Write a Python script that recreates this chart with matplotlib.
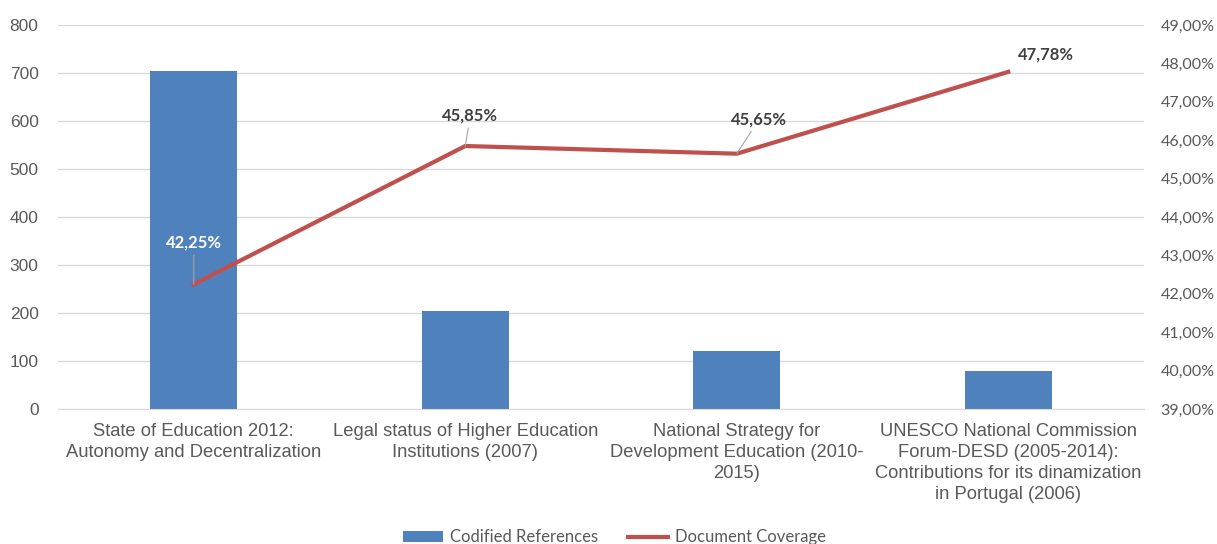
import numpy as np
import matplotlib.pyplot as plt
from matplotlib.ticker import FuncFormatter

categories = [
    "State of Education 2012:\nAutonomy and Decentralization",
    "Legal status of Higher Education\nInstitutions (2007)",
    "National Strategy for\nDevelopment Education (2010-\n2015)",
    "UNESCO National Commission\nForum-DESD (2005-2014):\nContributions for its dinamization\nin Portugal (2006)",
]
references = [704, 204, 121, 79]
coverage = [42.25, 45.85, 45.65, 47.78]
coverage_labels = ["42,25%", "45,85%", "45,65%", "47,78%"]

bar_color = "#4F81BD"
line_color = "#C0504D"
grid_color = "#D9D9D9"
text_color = "#595959"

fig = plt.figure(figsize=(12.17, 5.44), dpi=100)
ax = fig.add_axes([0.0477, 0.248, 0.8923, 0.706])
ax2 = ax.twinx()

x = np.arange(len(categories))
ax.bar(x, references, width=0.32, color=bar_color, zorder=2, label="Codified References")
ax.set_xlim(-0.5, len(categories) - 0.5)
ax.set_ylim(0, 800)
ax.set_yticks(range(0, 801, 100))
ax.grid(axis="y", color=grid_color, linewidth=1, zorder=0)
ax.set_axisbelow(True)
ax.set_xticks(x)
ax.set_xticklabels(categories, fontsize=13.2, color=text_color, family="Liberation Sans",
                   linespacing=1.3)
ax.tick_params(axis="x", length=0, pad=10)
ax.tick_params(axis="y", length=0, labelsize=12.5, labelcolor=text_color, pad=14)
for lab in ax.get_yticklabels():
    lab.set_family("Liberation Sans")
for s in ["top", "left", "right"]:
    ax.spines[s].set_visible(False)
ax.spines["bottom"].set_color(grid_color)

ax2.plot(x, coverage, color=line_color, linewidth=3, zorder=3, label="Document Coverage")
ax2.set_ylim(39, 49)
ax2.set_yticks(np.arange(39, 49.5, 1))
ax2.yaxis.set_major_formatter(FuncFormatter(lambda v, p: f"{v:.2f}%".replace(".", ",")))
ax2.tick_params(axis="y", length=0, labelsize=11.5, labelcolor=text_color, pad=12)
for lab in ax2.get_yticklabels():
    lab.set_family("Lato")
for s in ["top", "left", "right", "bottom"]:
    ax2.spines[s].set_visible(False)

# data labels with leader lines (offsets in points)
offsets = [(0, 24), (3.6, 16), (16, 19), (27, 7)]
label_colors = ["white", "#404040", "#404040", "#404040"]
leaders = [True, True, True, False]
for xi, yi, txt, off, c, lead in zip(x, coverage, coverage_labels, offsets, label_colors, leaders):
    arrow = dict(arrowstyle="-", color="#A6A6A6", lw=0.8, shrinkA=1, shrinkB=0) if lead else None
    ax2.annotate(txt, xy=(xi, yi), xytext=off, textcoords="offset points",
                 ha="center", va="bottom", fontsize=12, fontweight="bold",
                 color=c, family="Lato", arrowprops=arrow)

h1, l1 = ax.get_legend_handles_labels()
h2, l2 = ax2.get_legend_handles_labels()
fig.legend(h1 + h2, l1 + l2, loc="lower center", bbox_to_anchor=(0.505, -0.03), ncol=2,
           frameon=False, prop={"family": "Lato", "size": 12}, labelcolor=text_color,
           handlelength=2.4, handleheight=0.6, columnspacing=1.8, handletextpad=0.4)

fig.savefig("out.png", dpi=100)
